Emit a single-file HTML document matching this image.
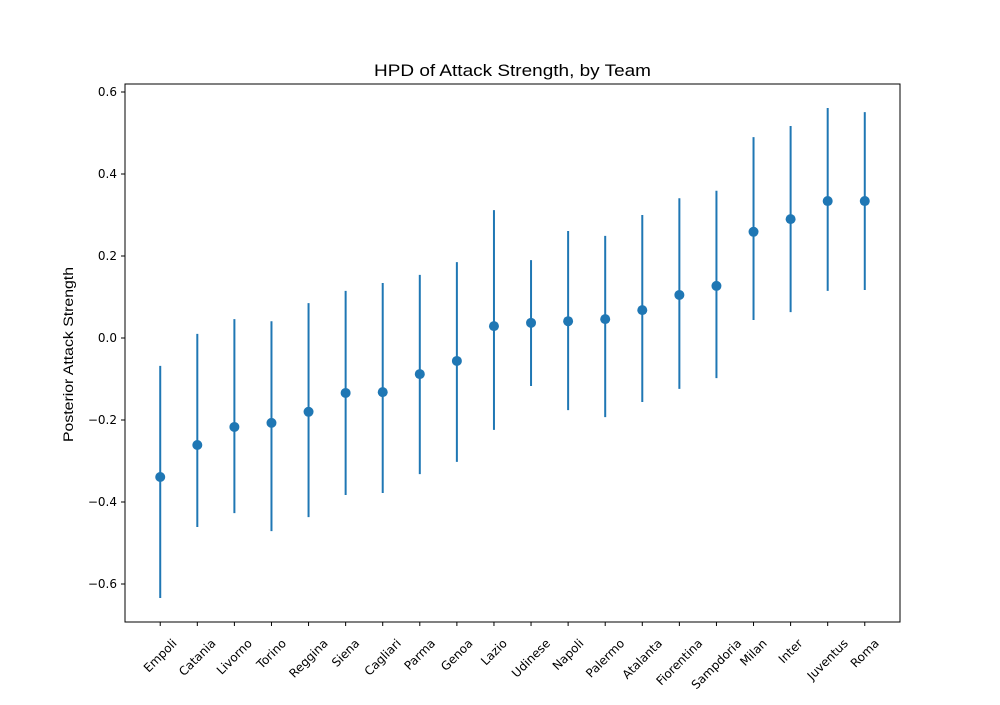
<!DOCTYPE html>
<html><head><meta charset="utf-8"><style>
body{margin:0;background:#fff;}
svg text{font-family:"DejaVu Sans","Liberation Sans",sans-serif;fill:#000;}
svg text.lib{font-family:"Liberation Sans",sans-serif;}
</style></head><body>
<svg id="chart" width="1000" height="700" xmlns="http://www.w3.org/2000/svg">
<rect width="1000" height="700" fill="#fff"/>
<text class="lib" x="374" y="76" font-size="16.5" textLength="277" lengthAdjust="spacingAndGlyphs">HPD of Attack Strength, by Team</text>
<text class="lib" transform="translate(73,442) rotate(-90)" font-size="13.5" textLength="175" lengthAdjust="spacingAndGlyphs">Posterior Attack Strength</text>
<g id="marks"></g>
<rect x="125" y="84" width="775" height="538" fill="none" stroke="#000" stroke-width="1"/>
</svg>
<script>
const teams = ["Empoli","Catania","Livorno","Torino","Reggina","Siena","Cagliari","Parma","Genoa","Lazio","Udinese","Napoli","Palermo","Atalanta","Fiorentina","Sampdoria","Milan","Inter","Juventus","Roma"];
const means = [-0.339,-0.261,-0.217,-0.207,-0.180,-0.134,-0.132,-0.088,-0.056,0.029,0.037,0.041,0.046,0.068,0.105,0.127,0.259,0.290,0.334,0.334];
const lows = [-0.634,-0.461,-0.427,-0.471,-0.437,-0.383,-0.378,-0.332,-0.302,-0.224,-0.117,-0.176,-0.193,-0.156,-0.124,-0.098,0.044,0.063,0.115,0.117];
const highs = [-0.068,0.010,0.046,0.041,0.085,0.115,0.134,0.154,0.185,0.312,0.190,0.261,0.249,0.300,0.341,0.359,0.490,0.517,0.561,0.551];
const yTicks = [-0.6,-0.4,-0.2,0.0,0.2,0.4,0.6];

const NS="http://www.w3.org/2000/svg";
const x = i => 125 + (i + 0.95) / 20.9 * 775;
const y = v => 338 - v * 410;
const g = document.getElementById('marks');
function mk(tag, attrs){const e=document.createElementNS(NS,tag);for(const k in attrs)e.setAttribute(k,attrs[k]);g.appendChild(e);return e;}

yTicks.forEach(t=>{
  const tk=mk('line',{x1:121,x2:125,y1:y(t),y2:y(t),stroke:'#000'});
  
  
  const lb=mk('text',{x:117,y:y(t)+4,'font-size':12,'text-anchor':'end'});
  lb.textContent=(t<0?'\u2212':'')+Math.abs(t).toFixed(1);
  
  
});

teams.forEach((tm,i)=>{
  const cx=x(i);
  const tk=mk('line',{x1:cx,x2:cx,y1:622,y2:626,stroke:'#000'});
  
  
  const lb=mk('text',{'font-size':12,'text-anchor':'middle','dominant-baseline':'central'});
  lb.textContent=tm;
  
  
  const w=lb.getComputedTextLength();
  const cy=637+(w*0.707+12*0.707)/2;
  lb.setAttribute('transform',`translate(${cx},${cy}) rotate(-45)`);
  const el=mk('line',{x1:cx,x2:cx,y1:y(lows[i]),y2:y(highs[i]),stroke:'#1f77b4','stroke-width':2});
  
  
  const pt=mk('circle',{cx:cx,cy:y(means[i]),r:5,fill:'#1f77b4'});
  
  
});
</script>
</body></html>
